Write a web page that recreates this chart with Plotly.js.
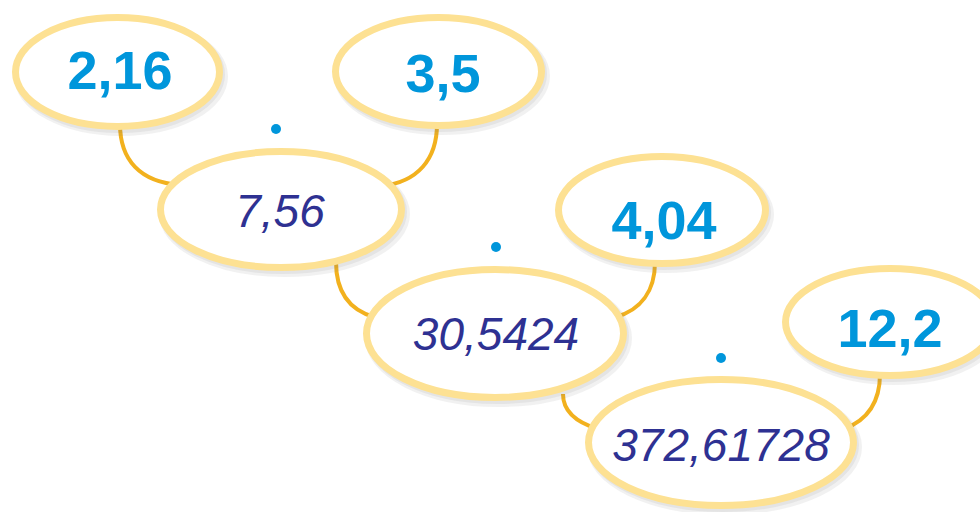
<!DOCTYPE html>
<html>
<head>
<meta charset="utf-8">
<script src="https://cdn.plot.ly/plotly-3.0.1.min.js"></script>
<style>html,body{margin:0;padding:0;background:#fff;}#chart{width:980px;height:512px;}</style>
</head>
<body>
<div id="chart"></div>
<script>
// ---- data ----
const factors = ["2,16", "3,5", "4,04", "12,2"];
const products = ["7,56", "30,5424", "372,61728"];
const operator = ["·", "·", "·"];

// ---- layout of the diagram (pixel boxes, outer edge of the ring) ----
const factorBoxes = [[12, 223, 14, 130], [332, 545, 14, 129], [555, 769, 153, 267], [782, 998, 265, 379]];
const factorText = [[120, 75], [443, 78], [664, 225], [890, 333]];
const productBoxes = [[157, 405, 148, 271], [363, 627, 266, 401], [585, 857, 376, 509]];
const productText = [[280, 215], [496, 338], [721, 449]];
const dotPos = [[276, 129], [496, 247], [721, 358]];
const arcs = [
  "M 120 124 C 120 160, 140 182, 180 185",
  "M 437 124 C 437 160, 417 182, 382 186",
  "M 336 262 C 336 292, 350 310, 374 317",
  "M 655 262 C 655 292, 640 310, 616 317",
  "M 563 394 C 563 410, 575 422, 598 429",
  "M 880 374 C 880 402, 868 420, 844 429"
];

const ringW = 7;
const shapes = [];
arcs.forEach(p => shapes.push({type: 'path', path: p, xref: 'x', yref: 'y', layer: 'below',
  line: {color: '#F2B11E', width: 4}}));

function ring(b) {
  const h = ringW / 2;
  shapes.push({type: 'circle', xref: 'x', yref: 'y', layer: 'below',
    x0: b[0] + h + 3, x1: b[1] - h + 4, y0: b[2] + h + 4, y1: b[3] - h + 5,
    fillcolor: 'rgba(0,0,0,0)', line: {color: 'rgba(120,120,120,0.10)', width: 9}});
  shapes.push({type: 'circle', xref: 'x', yref: 'y', layer: 'below',
    x0: b[0] + h + 2, x1: b[1] - h + 2, y0: b[2] + h + 2, y1: b[3] - h + 3,
    fillcolor: 'rgba(0,0,0,0)', line: {color: 'rgba(120,120,120,0.10)', width: 7}});
  shapes.push({type: 'circle', xref: 'x', yref: 'y', layer: 'below',
    x0: b[0] + h, x1: b[1] - h, y0: b[2] + h, y1: b[3] - h,
    fillcolor: '#ffffff', line: {color: '#FDE193', width: ringW}});
}
factorBoxes.forEach(ring);
productBoxes.forEach(ring);

const traces = [
  {type: 'scatter', mode: 'text', x: factorText.map(p => p[0]), y: factorText.map(p => p[1]),
   text: factors, textposition: 'middle center', hoverinfo: 'skip',
   textfont: {family: 'Liberation Sans, Arial, sans-serif', size: 54, color: '#0096DB', weight: 700}},
  {type: 'scatter', mode: 'text', x: productText.map(p => p[0]), y: productText.map(p => p[1]),
   text: products, textposition: 'middle center', hoverinfo: 'skip',
   textfont: {family: 'Liberation Sans, sans-serif', size: 46, color: '#2E3192', style: 'italic'}},
  {type: 'scatter', mode: 'markers', x: dotPos.map(p => p[0]), y: dotPos.map(p => p[1]),
   text: operator, hoverinfo: 'skip', marker: {size: 10, color: '#0096DB'}}
];

const layout = {
  width: 980, height: 512, margin: {l: 0, r: 0, t: 0, b: 0},
  paper_bgcolor: '#ffffff', plot_bgcolor: '#ffffff', showlegend: false,
  xaxis: {range: [0, 980], visible: false, fixedrange: true},
  yaxis: {range: [512, 0], visible: false, fixedrange: true},
  shapes: shapes
};
Plotly.newPlot('chart', traces, layout, {displayModeBar: false, staticPlot: true});
</script>
</body>
</html>
